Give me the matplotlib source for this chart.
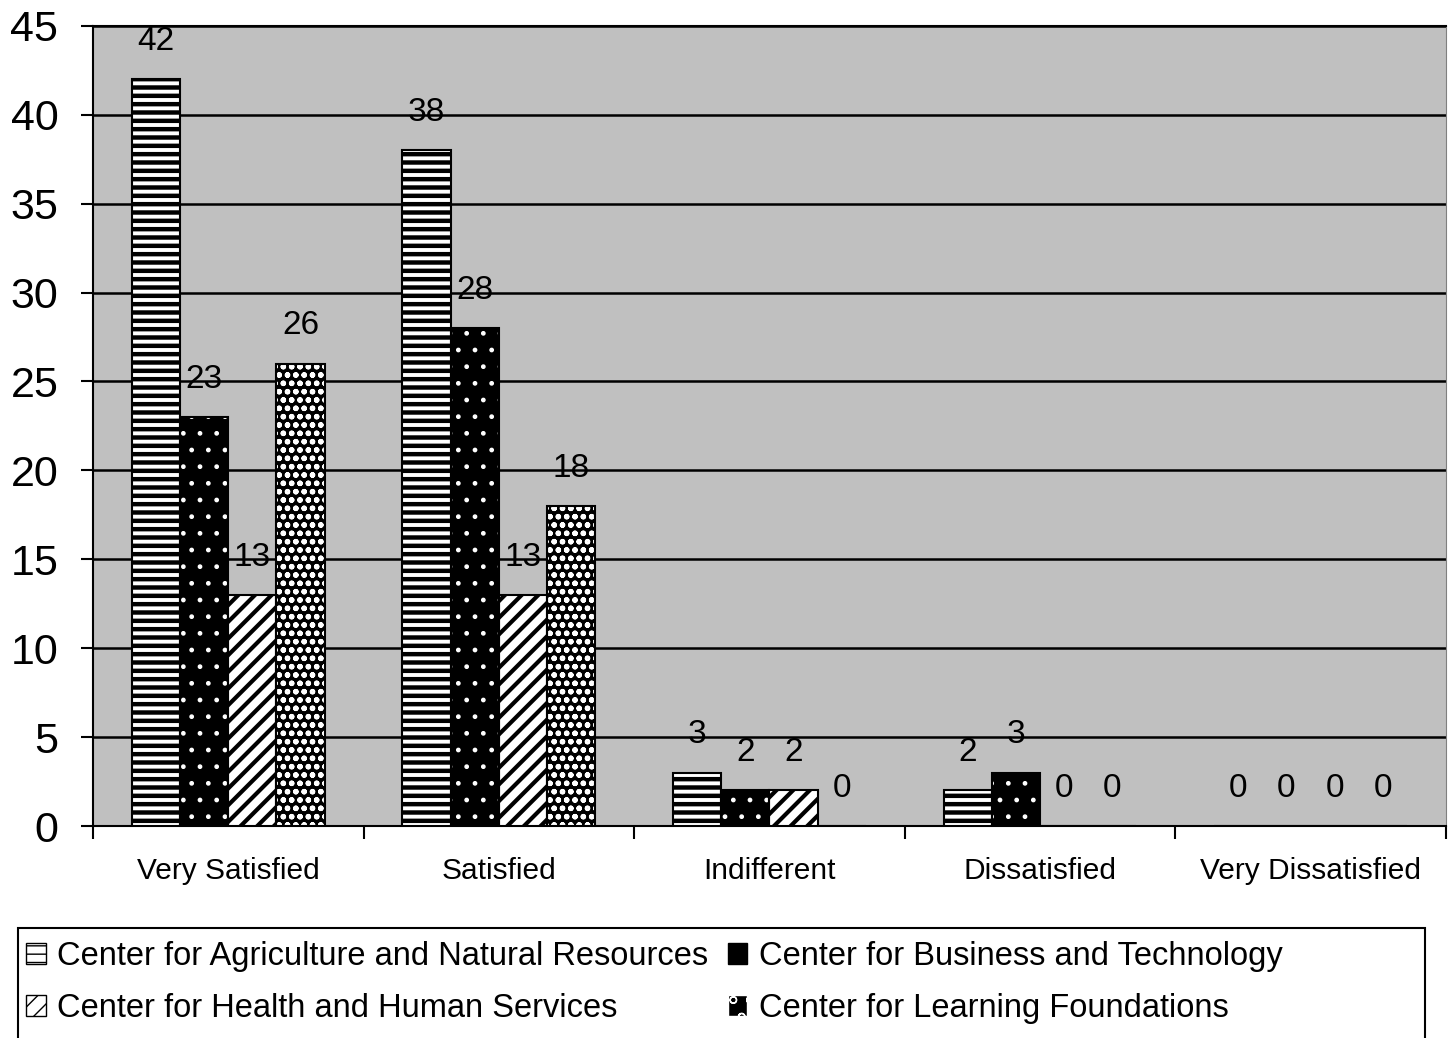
import numpy as np
import matplotlib
matplotlib.use('Agg')
import matplotlib.pyplot as plt
from matplotlib.patches import Patch, Rectangle

plt.rcParams['font.family'] = ['Liberation Sans', 'DejaVu Sans']

# 数据
categories = ['Very Satisfied', 'Satisfied', 'Indifferent', 'Dissatisfied', 'Very Dissatisfied']
series_names = ['Center for Agriculture and Natural Resources',
                'Center for Business and Technology',
                'Center for Health and Human Services',
                'Center for Learning Foundations']
agri = [42, 38, 3, 2, 0]
business = [23, 28, 2, 3, 0]
health = [13, 13, 2, 0, 0]
learning = [26, 18, 0, 0, 0]
yticks = [0, 5, 10, 15, 20, 25, 30, 35, 40, 45]

all_series = [agri, business, health, learning]
# 填充样式: (底色, 花纹颜色, 花纹, 花纹线宽)
styles = [('white', 'black', '--', 3.2),
          ('black', 'white', '.', 1.0),
          ('white', 'black', '//', 3.0),
          ('black', 'white', 'oo', 1.6)]

fig = plt.figure(figsize=(14.53, 10.38), dpi=100)
ax = fig.add_axes([0.064, 0.2042, 0.931, 0.771])
ax.set_facecolor('#c0c0c0')

x = np.arange(len(categories))
width = 0.178
for i, vals in enumerate(all_series):
    pos = x + (i - 1.5) * width
    face, hcol, hatch, hlw = styles[i]
    with plt.rc_context({'hatch.linewidth': hlw}):
        ax.bar(pos, vals, width, color=face, edgecolor=hcol, hatch=hatch, linewidth=0, zorder=3)
    ax.bar(pos, vals, width, fill=False, edgecolor='black', linewidth=1.5, zorder=4)
    for p, v in zip(pos, vals):
        ax.annotate(str(v), (p, v), xytext=(0, 16), textcoords='offset points',
                    ha='center', va='bottom', fontsize=24, zorder=5)

ax.set_xlim(-0.5, 4.5)
ax.set_ylim(0, 45)
ax.set_yticks(yticks)
ax.tick_params(axis='y', labelsize=31, length=9, width=1.5, pad=16)
ax.yaxis.grid(True, color='black', linewidth=1.8, zorder=1)
ax.set_axisbelow(True)

ax.set_xticks(x)
ax.set_xticklabels(categories, fontsize=21.5)
ax.tick_params(axis='x', length=0, pad=22)
ax.set_xticks(np.arange(-0.5, 5.0, 1.0), minor=True)
ax.tick_params(axis='x', which='minor', length=9, width=1.5)

ax.spines['left'].set_linewidth(1.5)
ax.spines['bottom'].set_linewidth(1.5)
ax.spines['top'].set_linewidth(1.5)
ax.spines['right'].set_color('#808080')

# 图例小方块
with plt.rc_context({'hatch.linewidth': 1.5}):
    h_agri = Patch(facecolor='white', edgecolor='black', hatch='--', label=series_names[0])
    h_bus = Patch(facecolor='black', edgecolor='black', label=series_names[1])
    h_health = Patch(facecolor='white', edgecolor='black', hatch='//', label=series_names[2])
    h_learn = Patch(facecolor='black', edgecolor='white', hatch='o', label=series_names[3])
# 按行排列: 农业, 商业 / 健康, 学习
handles = [h_agri, h_health, h_bus, h_learn]

fig.legend(handles=handles, loc='upper left', ncol=2,
           bbox_to_anchor=(26 / 1453, 1 - 941 / 1038),
           fontsize=23.5, frameon=False,
           handlelength=0.6, handleheight=0.6, handletextpad=0.35,
           columnspacing=0.6, borderpad=0, borderaxespad=0, labelspacing=0.65)
fig.patches.append(Rectangle((18 / 1453, -0.02), 1407 / 1453, 0.02 + 110 / 1038,
                             transform=fig.transFigure, fill=False,
                             edgecolor='black', linewidth=1.5))

fig.savefig('out.png', dpi=100)
